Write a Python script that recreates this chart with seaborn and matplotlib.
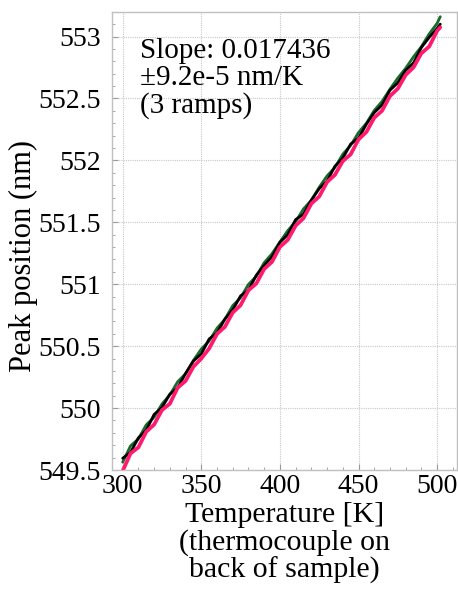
import matplotlib
matplotlib.use("Agg")
import matplotlib.pyplot as plt
import seaborn as sns
import pandas as pd
from matplotlib.ticker import MultipleLocator

temperature = [300, 305, 310, 315, 320, 325, 330, 335, 340, 345, 350, 355, 360, 365,
               370, 375, 380, 385, 390, 395, 400, 405, 410, 415, 420, 425, 430, 435,
               440, 445, 450, 455, 460, 465, 470, 475, 480, 485, 490, 495, 500, 502]

ramp_black = [549.595, 549.642, 549.760, 549.821, 549.949, 550.004, 550.113, 550.163,
              550.280, 550.380, 550.437, 550.558, 550.606, 550.719, 550.793, 550.906,
              550.951, 551.073, 551.152, 551.222, 551.339, 551.400, 551.522, 551.565,
              551.679, 551.772, 551.831, 551.953, 552.018, 552.132, 552.179, 552.292,
              552.386, 552.447, 552.567, 552.626, 552.727, 552.787, 552.912, 552.994,
              553.065, 553.100]

ramp_green = [549.563, 549.695, 549.751, 549.865, 549.926, 550.033, 550.107, 550.213,
              550.277, 550.385, 550.477, 550.542, 550.645, 550.717, 550.827, 550.892,
              550.999, 551.064, 551.174, 551.247, 551.341, 551.433, 551.506, 551.608,
              551.679, 551.783, 551.875, 551.943, 552.050, 552.121, 552.225, 552.300,
              552.403, 552.477, 552.575, 552.665, 552.744, 552.837, 552.919, 553.022,
              553.107, 553.160]

ramp_pink = [549.493, 549.634, 549.683, 549.809, 549.867, 549.984, 550.035, 550.165,
             550.219, 550.334, 550.400, 550.481, 550.599, 550.656, 550.771, 550.831,
             550.951, 551.006, 551.123, 551.181, 551.301, 551.358, 551.473, 551.533,
             551.651, 551.708, 551.825, 551.883, 551.994, 552.049, 552.169, 552.229,
             552.344, 552.401, 552.519, 552.579, 552.690, 552.751, 552.865, 552.920,
             553.046, 553.075]

annotation = "Slope: 0.017436\n±9.2e-5 nm/K\n(3 ramps)"

sns.set_style("white")
plt.rcParams['font.family'] = ['Liberation Serif', 'DejaVu Serif']
plt.rcParams['text.color'] = 'black'
plt.rcParams['axes.labelcolor'] = 'black'

fig = plt.figure(figsize=(4.58, 5.89), dpi=100)
ax = fig.add_axes([0.2445, 0.202, 0.7535, 0.778])

series = [("green", ramp_green, "#1a6b2a", 2.0),
          ("black", ramp_black, "#000000", 2.0),
          ("pink", ramp_pink, "#ff1a6e", 2.7)]
for name, vals, col, lw in series:
    df = pd.DataFrame({"T": temperature, "P": vals})
    sns.lineplot(data=df, x="T", y="P", ax=ax, color=col, linewidth=lw,
                 estimator=None, sort=False)

ax.set_xlim(293.2, 512.7)
ax.set_ylim(549.5, 553.2)
ax.xaxis.set_minor_locator(MultipleLocator(10))
ax.yaxis.set_minor_locator(MultipleLocator(0.1))
ax.set_xticks([300, 350, 400, 450, 500])
ax.set_xticklabels(["300", "350", "400", "450", "500"])
ax.set_yticks([549.5, 550, 550.5, 551, 551.5, 552, 552.5, 553])
ax.set_yticklabels(["549.5", "550", "550.5", "551", "551.5", "552", "552.5", "553"])

ax.grid(True, which="major", color="#c8c8c8", linestyle=(0, (1, 1)), linewidth=0.8)
for s in ax.spines.values():
    s.set_color("#c0c0c0")
    s.set_linewidth(1.0)
ax.tick_params(which="major", direction="in", length=4, color="#999999",
               labelsize=20, labelcolor="black")
ax.tick_params(which="minor", direction="in", length=2, color="#999999")
ax.tick_params(axis="y", which="major", pad=8)
ax.tick_params(axis="x", which="major", pad=3)
ax.tick_params(which="both", bottom=True, left=True)

ax.set_xlabel("Temperature [K]\n(thermocouple on\nback of sample)", fontsize=21.5,
              linespacing=1.05, labelpad=2)
ax.set_ylabel("Peak position (nm)", fontsize=22, labelpad=0, y=0.467)

ax.text(0.08, 0.943, annotation, transform=ax.transAxes, fontsize=21,
        va="top", ha="left", linespacing=1.05)

fig.savefig("out.png", dpi=100)
